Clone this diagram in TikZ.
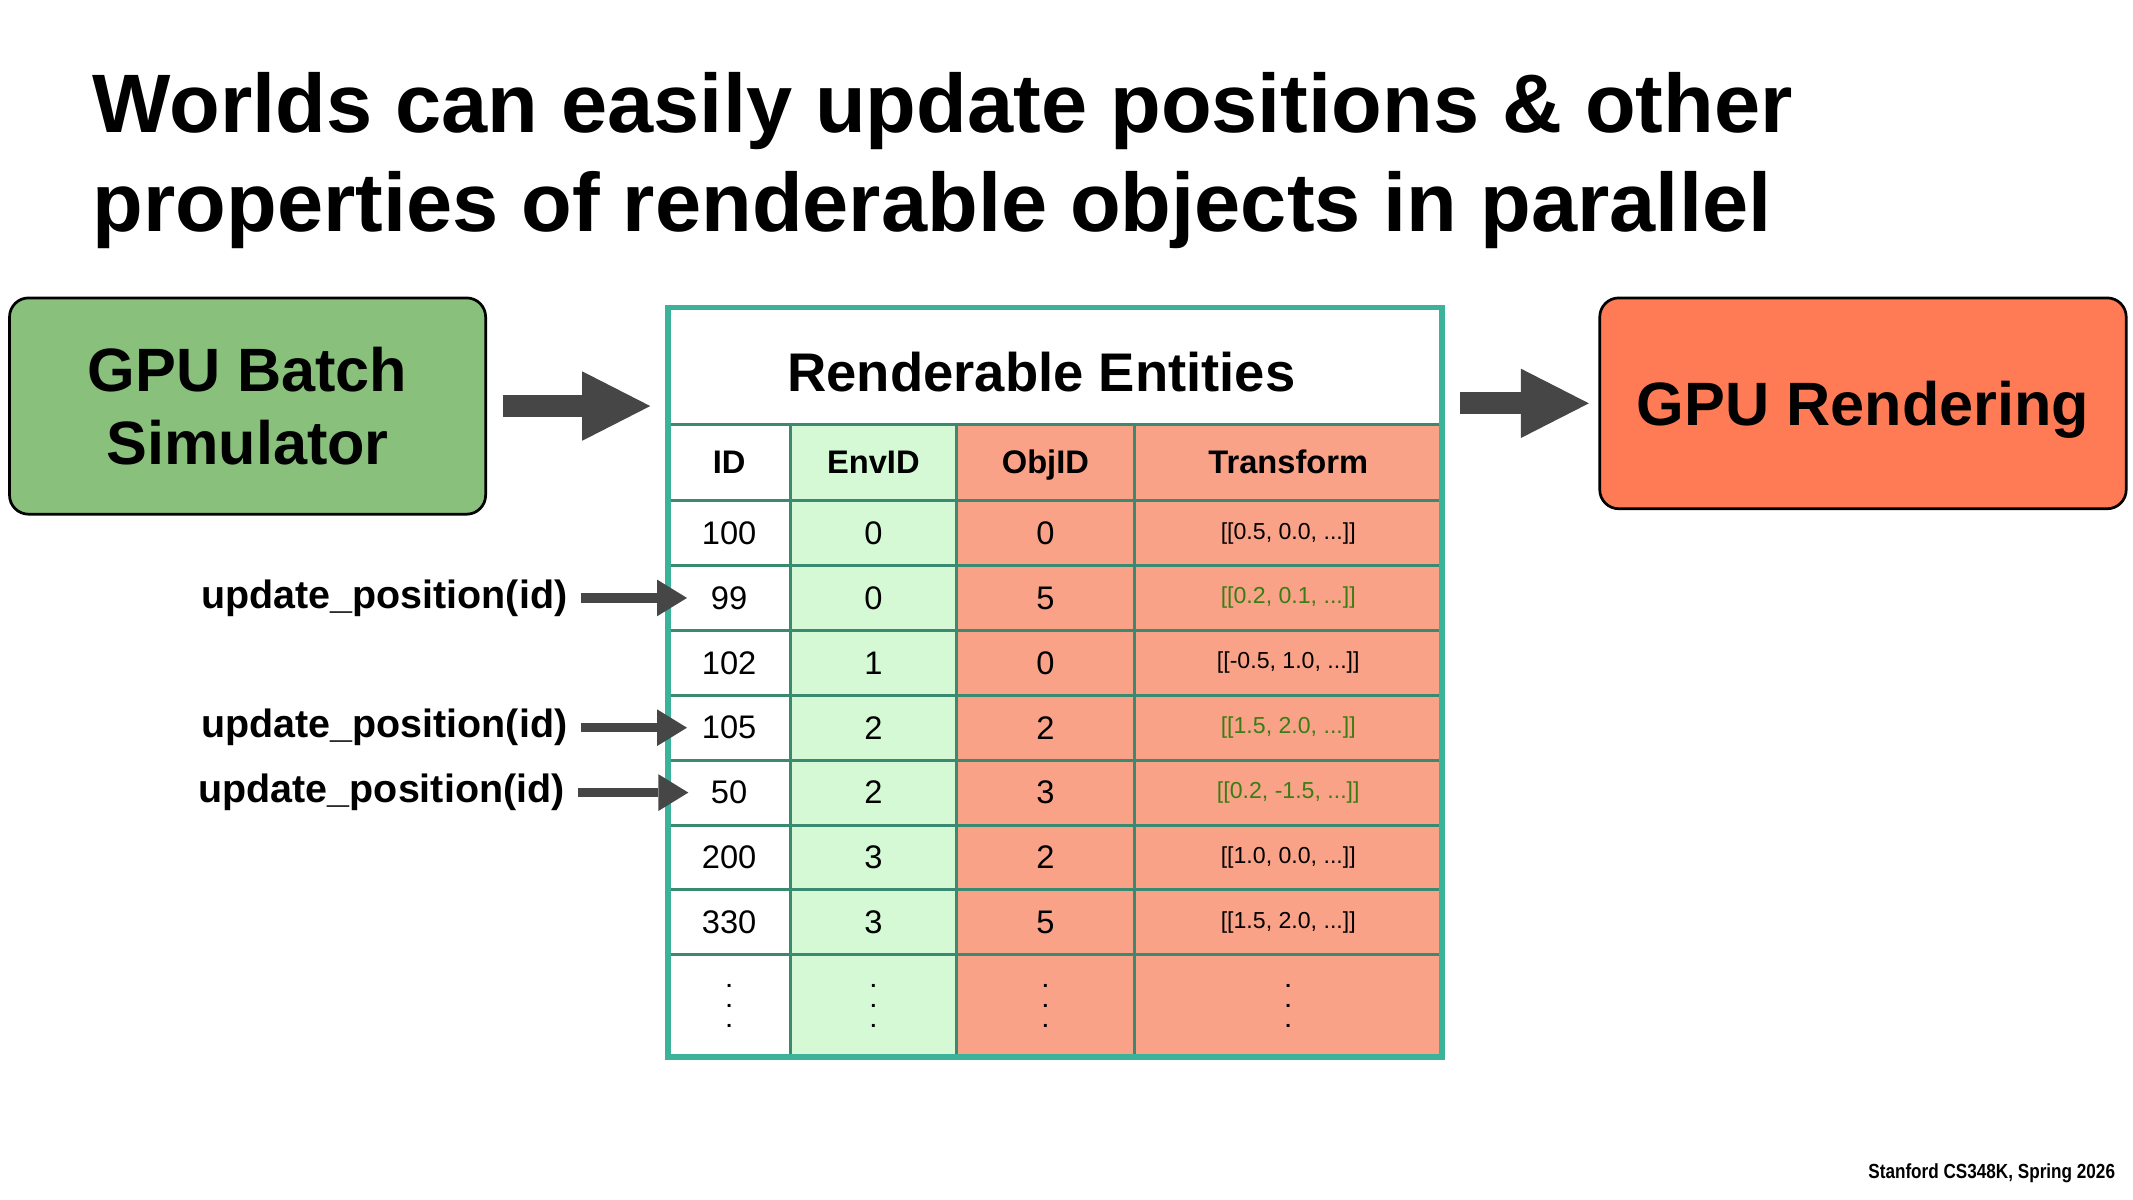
\documentclass[tikz,border=0pt]{standalone}
\usepackage{fontspec}
\setmainfont{Liberation Sans}
\newfontfamily\footfont[FakeStretch=0.84]{Liberation Sans}
\usetikzlibrary{arrows.meta,positioning}
\definecolor{ink}{HTML}{000000}
\definecolor{arrgray}{HTML}{464646}
\definecolor{simfill}{HTML}{88C07C}
\definecolor{rendfill}{HTML}{FF7B55}
\definecolor{frameteal}{HTML}{3AB39A}
\definecolor{gridteal}{HTML}{3A8A72}
\definecolor{envfill}{HTML}{D4F9D4}
\definecolor{objfill}{HTML}{F9A287}
\definecolor{newval}{HTML}{3A7D14}
\tikzset{
  ttl/.style={anchor=north west,inner sep=0pt,align=left,font=\bfseries\fontsize{61}{73}\selectfont},
  bigbox/.style={draw=ink,line width=2pt,rounded corners=14pt,inner sep=0pt,outer sep=0pt,align=center,font=\bfseries\fontsize{45}{54}\selectfont},
  simbox/.style={bigbox,fill=simfill,minimum width=350pt,minimum height=159pt},
  rendbox/.style={bigbox,fill=rendfill,minimum width=387pt,minimum height=155pt,text height=33pt,text depth=0pt},
  cell/.style={draw=gridteal,line width=2.2pt,inner sep=0pt,outer sep=0pt,minimum height=47.7pt,align=center,font=\fontsize{24}{29}\selectfont},
  idc/.style={cell,fill=white,minimum width=90pt},
  envc/.style={cell,fill=envfill,minimum width=122pt},
  objc/.style={cell,fill=objfill,minimum width=131pt},
  trc/.style={cell,fill=objfill,minimum width=226pt,font=\fontsize{17}{20}\selectfont},
  trnew/.style={trc,text=newval},
  hdr/.style={minimum height=56pt,text height=19pt,text depth=3pt,font=\bfseries\fontsize{24}{29}\selectfont},
  dotc/.style={minimum height=75pt,font=\bfseries\fontsize{15}{15}\selectfont},
  headc/.style={cell,fill=white,minimum width=569pt,minimum height=86pt,text height=37pt,text depth=0pt,font=\bfseries\fontsize{40}{48}\selectfont},
  frame/.style={draw=frameteal,line width=3.8pt},
  upd/.style={anchor=east,inner sep=0pt,outer sep=0pt,font=\bfseries\fontsize{29}{35}\selectfont},
  barr/.style={draw=arrgray,line width=16pt,-{Triangle[length=50pt,width=51pt,line width=0pt]}},
  sarr/.style={draw=arrgray,line width=7pt,-{Triangle[length=22pt,width=27pt,line width=0pt]}},
  foot/.style={anchor=base east,inner sep=0pt,font=\footfont\bfseries\fontsize{15}{18}\selectfont},
}
\begin{document}
\begin{tikzpicture}[x=1pt,y=-1pt]
\useasboundingbox (0,0) rectangle (1568,882);
\node[ttl] (ttl) at (68,53) {Worlds can easily update positions \& other\\properties of renderable objects in parallel};
\node[simbox] (sim) at (182,298.5) {GPU Batch\\Simulator};
\node[rendbox] (rend) at (1369.5,296.5) {GPU Rendering};
\node[headc] (ents) at (775.5,269) {Renderable Entities\hspace*{20pt}};
\node[idc,hdr] (hid) at (536,340) {ID};
\node[envc,hdr] (henv) at (642,340) {EnvID};
\node[objc,hdr] (hobj) at (768.5,340) {ObjID};
\node[trc,hdr] (htr) at (947,340) {Transform};
\node[idc] (id1) at (536,391.85) {100};
\node[envc] (env1) at (642,391.85) {0};
\node[objc] (obj1) at (768.5,391.85) {0};
\node[trc] (tr1) at (947,391.85) {[[0.5, 0.0, ...]]};
\node[idc] (id2) at (536,439.55) {99};
\node[envc] (env2) at (642,439.55) {0};
\node[objc] (obj2) at (768.5,439.55) {5};
\node[trnew] (tr2) at (947,439.55) {[[0.2, 0.1, ...]]};
\node[idc] (id3) at (536,487.25) {102};
\node[envc] (env3) at (642,487.25) {1};
\node[objc] (obj3) at (768.5,487.25) {0};
\node[trc] (tr3) at (947,487.25) {[[-0.5, 1.0, ...]]};
\node[idc] (id4) at (536,534.95) {105};
\node[envc] (env4) at (642,534.95) {2};
\node[objc] (obj4) at (768.5,534.95) {2};
\node[trnew] (tr4) at (947,534.95) {[[1.5, 2.0, ...]]};
\node[idc] (id5) at (536,582.65) {50};
\node[envc] (env5) at (642,582.65) {2};
\node[objc] (obj5) at (768.5,582.65) {3};
\node[trnew] (tr5) at (947,582.65) {[[0.2, -1.5, ...]]};
\node[idc] (id6) at (536,630.35) {200};
\node[envc] (env6) at (642,630.35) {3};
\node[objc] (obj6) at (768.5,630.35) {2};
\node[trc] (tr6) at (947,630.35) {[[1.0, 0.0, ...]]};
\node[idc] (id7) at (536,678.05) {330};
\node[envc] (env7) at (642,678.05) {3};
\node[objc] (obj7) at (768.5,678.05) {5};
\node[trc] (tr7) at (947,678.05) {[[1.5, 2.0, ...]]};
\node[idc,dotc] (did) at (536,739.5) {.\\.\\.};
\node[envc,dotc] (denv) at (642,739.5) {.\\.\\.};
\node[objc,dotc] (dobj) at (768.5,739.5) {.\\.\\.};
\node[trc,dotc] (dtr) at (947,739.5) {.\\.\\.};
\draw[frame] (ents.north west) rectangle (dtr.south east);
\draw[barr,shorten <=13pt,shorten >=13pt] (sim.east) -- (sim.east -| ents.west);
\draw[barr,shorten <=13pt,shorten >=8pt] (rend.west -| ents.east) -- (rend.west);
\node[upd] (upd1) at (417,439.55) {update\_position(id)};
\node[upd] (upd2) at (417,534.95) {update\_position(id)};
\node[upd] (upd3) at (415,582.65) {update\_position(id)};
\draw[sarr,shorten <=10pt] (upd1.east) -- ([xshift=14pt]id2.west);
\draw[sarr,shorten <=10pt] (upd2.east) -- ([xshift=14pt]id4.west);
\draw[sarr,shorten <=10pt] (upd3.east) -- ([xshift=15pt]id5.west);
\node[foot] (foot) at (1555,866) {Stanford CS348K, Spring 2026};
\end{tikzpicture}
\end{document}
